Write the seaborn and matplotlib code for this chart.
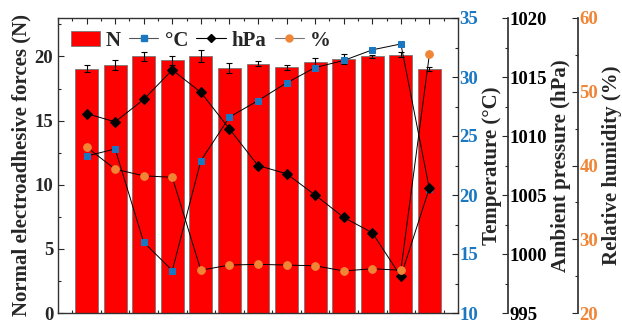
import matplotlib
matplotlib.use("Agg")
import matplotlib.pyplot as plt
from matplotlib.patches import Patch
from matplotlib.lines import Line2D
from matplotlib.ticker import AutoMinorLocator, MultipleLocator
import numpy as np
import pandas as pd
import seaborn as sns

# ------------------------------------------------------------
# Datos leidos de la figura (13 mediciones)
# ------------------------------------------------------------
muestra = list(range(13))
fuerza_N = [19.05, 19.35, 20.0, 19.7, 20.05, 19.1, 19.45, 19.15, 19.55, 19.8, 20.0, 20.15, 19.0]
fuerza_err = [0.26, 0.4, 0.36, 0.35, 0.45, 0.36, 0.22, 0.22, 0.3, 0.36, 0.15, 0.17, 0.17]
temp_C = [23.3, 23.9, 16.0, 13.6, 22.9, 26.6, 28.0, 29.5, 30.8, 31.4, 32.3, 32.8, 20.5]
presion_hPa = [1011.9, 1011.2, 1013.1, 1015.6, 1013.7, 1010.6, 1007.5, 1006.8,
               1005.0, 1003.1, 1001.8, 998.1, 1005.6]
humedad = [42.5, 39.5, 38.6, 38.4, 25.8, 26.5, 26.6, 26.5, 26.4, 25.7, 26.0, 25.8, 55.1]

AZUL = "#1A78C2"
NARANJA = "#F08536"
ROJO = "#FF0000"

sns.set_theme(style="ticks")
plt.rcParams["font.family"] = ["Liberation Serif", "DejaVu Serif"]
plt.rcParams["font.weight"] = "bold"
plt.rcParams["axes.labelweight"] = "bold"
plt.rcParams["xtick.direction"] = "in"
plt.rcParams["ytick.direction"] = "in"

df = pd.DataFrame({"x": muestra, "N": fuerza_N, "err": fuerza_err,
                   "T": temp_C, "P": presion_hPa, "H": humedad})

fig = plt.figure(figsize=(6.22, 3.2), dpi=100)
ax = fig.add_axes([58 / 622, 1 - 313 / 320, 400 / 622, 295 / 320])

# barras de fuerza
sns.barplot(df, x="x", y="N", color=ROJO, saturation=1, width=0.8,
            edgecolor="#777777", linewidth=0.6, errorbar=None, ax=ax, zorder=1)
ax.errorbar(df["x"], df["N"], yerr=df["err"], fmt="none", ecolor="black",
            elinewidth=0.8, capsize=2.5, capthick=0.8, zorder=3)
ax.set_xlim(-1, 13)
ax.set_ylim(0, 23)
ax.set_xlabel("")
ax.set_ylabel("Normal electroadhesive forces (N)", fontsize=15, labelpad=2)
ax.set_xticks(muestra)
ax.set_xticklabels([])
ax.xaxis.set_minor_locator(MultipleLocator(0.5))
ax.yaxis.set_major_locator(MultipleLocator(5))
ax.yaxis.set_minor_locator(MultipleLocator(2.5))
ax.tick_params(axis="both", which="both", top=True, labelsize=13.5)
ax.tick_params(axis="both", which="major", length=4, width=0.8)
ax.tick_params(axis="both", which="minor", length=2.5, width=0.8)
ax.tick_params(axis="y", which="both", right=False)

def eje_derecho(pos, color_lbl):
    a = ax.twinx()
    a.spines["right"].set_position(("axes", pos))
    a.spines["right"].set_color("#333333")
    for s in ["left", "top", "bottom"]:
        a.spines[s].set_visible(False)
    a.tick_params(axis="y", which="major", length=4, width=0.8, labelsize=13.5,
                  labelcolor=color_lbl, pad=1)
    a.tick_params(axis="y", which="minor", length=2.5, width=0.8)
    a.yaxis.set_minor_locator(AutoMinorLocator(2))
    return a

ax_t = eje_derecho(1.0, AZUL)
ax_p = eje_derecho(1.125, "black")
ax_h = eje_derecho(1.3, NARANJA)

sns.lineplot(df, x="x", y="T", ax=ax_t, color="black", linewidth=0.7,
             marker="s", markersize=5, markerfacecolor=AZUL, markeredgecolor=AZUL)
sns.lineplot(df, x="x", y="P", ax=ax_p, color="black", linewidth=0.7,
             marker="D", markersize=5.5, markerfacecolor="black", markeredgecolor="black")
sns.lineplot(df, x="x", y="H", ax=ax_h, color="black", linewidth=0.7,
             marker="o", markersize=5.5, markerfacecolor=NARANJA, markeredgecolor=NARANJA)

ax_t.set_ylim(10, 35)
ax_t.yaxis.set_major_locator(MultipleLocator(5))
ax_t.set_ylabel("Temperature (°C)", fontsize=15, labelpad=3)
ax_p.set_ylim(995, 1020)
ax_p.yaxis.set_major_locator(MultipleLocator(5))
ax_p.set_ylabel("Ambient pressure (hPa)", fontsize=15, labelpad=3)
ax_h.set_ylim(20, 60)
ax_h.yaxis.set_major_locator(MultipleLocator(10))
ax_h.set_ylabel("Relative humidity (%)", fontsize=15, labelpad=3)
for a in (ax_t, ax_p, ax_h):
    a.set_xlim(-1, 13)

for s in ax.spines.values():
    s.set_color("#333333")
    s.set_linewidth(1)
ax_t.spines["right"].set_visible(False)
ax.spines["right"].set_visible(True)

# leyenda
handles = [
    Patch(facecolor=ROJO, edgecolor="#777777", linewidth=0.6),
    Line2D([], [], color="#555555", lw=0.8, marker="s", ms=5, mfc=AZUL, mec=AZUL),
    Line2D([], [], color="black", lw=0.8, marker="D", ms=4.5, mfc="black", mec="black"),
    Line2D([], [], color="#777777", lw=0.8, marker="o", ms=5, mfc=NARANJA, mec=NARANJA),
]
ax_h.legend(handles, ["N", "°C", "hPa", "%"], loc="upper left", ncol=4,
            frameon=False, prop={"size": 15, "weight": "bold"},
            handlelength=1.4, handletextpad=0.3, columnspacing=0.4,
            borderaxespad=0.2, bbox_to_anchor=(0.0, 1.0))

fig.savefig("out.png", dpi=100)
plt.close(fig)
